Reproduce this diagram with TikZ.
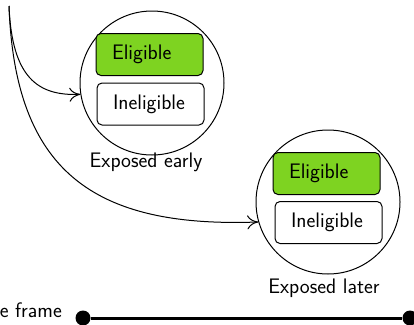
\documentclass[tikz,border=0pt]{standalone}
\usetikzlibrary{arrows.meta}
\definecolor{eligiblegreen}{RGB}{126,211,33}
\begin{document}
\begin{tikzpicture}[x=1pt,y=-1pt,
  every node/.style={font=\sffamily\fontsize{21}{25}\selectfont},
  group/.style={circle,draw,line width=1pt,minimum size=144pt,inner sep=0pt},
  statebox/.style={draw,line width=1pt,rounded corners=5pt,minimum width=107pt,
    minimum height=42pt,inner xsep=16pt,inner ysep=0pt,text width=75pt,align=left},
  elig/.style={statebox,fill=eligiblegreen},
  flow/.style={line width=1pt,-{To[length=11pt,width=14pt]}},
  tick/.style={circle,fill=black,minimum size=15pt,inner sep=0pt}]
\useasboundingbox (0,0) rectangle (414,324);

% two exposure groups
\node[group] (early) at (152,83) {};
\node[elig] (e1) at (149.5,54.5) {Eligible};
\node[statebox] (i1) at (150.5,104) {Ineligible};
\node (early lbl) at (146,162) {Exposed early};

\node[group] (later) at (328,202) {};
\node[elig] (e2) at (326.5,173.5) {Eligible};
\node[statebox] (i2) at (328.5,222.5) {Ineligible};
\node (later lbl) at (324,288) {Exposed later};

% incoming flows
\coordinate (src) at (9,6);
\draw[flow] (src) .. controls (12,78) and (38,96) .. (early.189);
\draw[flow] (src) .. controls (15,170) and (92,228) .. (later.196);

% time axis
\node[tick] (t0) at (83,318) {};
\node[tick] (t1) at (410,318) {};
\draw[line width=3pt] (t0) -- (t1);
\node[anchor=base east,inner sep=0pt] (tf) at (62,317) {Time frame};
\end{tikzpicture}
\end{document}
